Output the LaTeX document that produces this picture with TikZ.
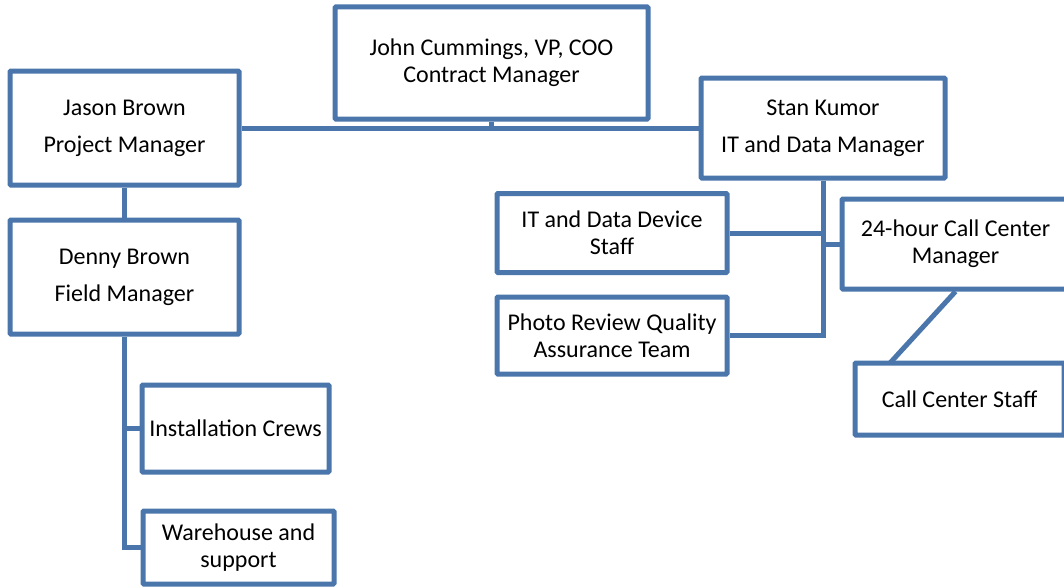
\documentclass[tikz,border=0pt]{standalone}
\usepackage{fontspec}
\setmainfont{Carlito}
\definecolor{edge}{HTML}{4A76AC}
\begin{document}
\begin{tikzpicture}[x=1pt,y=-1pt,
  box/.style={draw=edge,line width=5pt,rounded corners=1pt,fill=white,inner sep=0pt,
    align=center,font=\fontsize{24}{27}\selectfont},
  widebox/.style={box,font=\fontsize{24}{37}\selectfont},
  conn/.style={draw=edge,line width=5pt}]
\useasboundingbox (0,0) rectangle (1064,586);
\coordinate (dtop) at (890,363);
\node[box,minimum width=313pt,minimum height=112pt] (john) at (491.5,63) {John Cummings, VP, COO\\Contract Manager};
\node[widebox,minimum width=229pt,minimum height=114pt] (jason) at (124.5,128) {Jason Brown\\Project Manager};
\node[widebox,minimum width=244pt,minimum height=100pt] (stan) at (823,128) {Stan Kumor\\IT and Data Manager};
\node[widebox,minimum width=229pt,minimum height=114pt] (denny) at (124.5,277) {Denny Brown\\Field Manager};
\node[box,minimum width=230pt,minimum height=79pt] (itd) at (612,233) {IT and Data Device\\Staff};
\node[box,minimum width=230pt,minimum height=77pt] (photo) at (612,335.5) {Photo Review Quality\\Assurance Team};
\node[box,minimum width=227pt,minimum height=90pt] (ccm) at (955.5,244) {24-hour Call Center\\Manager};
\node[box,minimum width=209pt,minimum height=72pt] (ccs) at (959.5,399) {Call Center Staff};
\node[box,minimum width=187pt,minimum height=87pt] (inst) at (235.5,428.5) {Installation Crews};
\node[box,minimum width=191pt,minimum height=73pt] (wh) at (238.5,547.5) {Warehouse and\\support};
% connectors
\draw[conn] (jason.east) -- (stan.west);
\draw[conn] (john.south) -- (john.south |- jason.east);
\draw[conn] (jason.south) -- (denny.north);
\draw[conn] (denny.south) |- (wh.west);
\draw[conn] (denny.south |- inst.west) -- (inst.west);
\draw[conn] (stan.south) |- (photo.east);
\draw[conn] (stan.south |- itd.east) -- (itd.east);
\draw[conn] (stan.south |- ccm.west) -- (ccm.west);
\draw[conn] (ccm.south) -- (dtop);
\end{tikzpicture}
\end{document}
